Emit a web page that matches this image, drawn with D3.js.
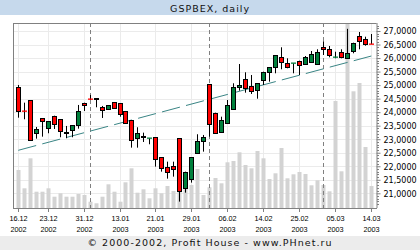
<!DOCTYPE html>
<html><head><meta charset="utf-8">
<script src="https://cdn.jsdelivr.net/npm/d3@7"></script>
<style>body{margin:0;background:#fff}svg{display:block}</style>
</head><body>
<script>
const dates = ["16.12.2002","17.12.2002","18.12.2002","19.12.2002","20.12.2002","23.12.2002","24.12.2002","25.12.2002","26.12.2002","27.12.2002","30.12.2002","31.12.2002",
"03.01.2003","06.01.2003","08.01.2003","09.01.2003","10.01.2003","13.01.2003","14.01.2003","15.01.2003","16.01.2003","17.01.2003","20.01.2003","21.01.2003","22.01.2003","23.01.2003","24.01.2003","27.01.2003","28.01.2003","29.01.2003","30.01.2003","31.01.2003",
"03.02.2003","04.02.2003","05.02.2003","06.02.2003","07.02.2003","10.02.2003","11.02.2003","12.02.2003","13.02.2003","14.02.2003","17.02.2003","18.02.2003","19.02.2003","20.02.2003","21.02.2003","25.02.2003","26.02.2003","27.02.2003","28.02.2003",
"03.03.2003","04.03.2003","05.03.2003","06.03.2003","07.03.2003","11.03.2003","12.03.2003","13.03.2003","14.03.2003"];
const open  = [24920,24050,24439,23220,23774,23405,23848,23737,23242,23331,23516,24328,24480,24500,24180,24107,24365,24328,24044,23700,23035,23094,23030,23072,22333,21964,22012,23035,21210,21542,22481,22947,25030,23981,23257,23590,24107,24920,25215,24957,24809,25190,25496,25681,26050,25829,25800,25903,25781,25866,25770,26398,26346,26022,26235,26013,26250,26815,26716,26535];
const high  = [25005,24351,24439,23453,23774,23663,23870,23737,23490,23516,24266,24351,24635,24500,24230,24255,24365,24328,24044,23700,23442,23242,23035,23072,22333,22170,22170,23035,21801,22333,23183,23157,25030,23981,23833,24450,25068,25780,25474,25374,25068,25496,25659,26102,26398,25991,25806,25903,26076,26261,26324,26619,26446,26235,26324,27080,26568,26963,26790,26889];
const low   = [23796,23737,22961,23020,23094,23220,23379,23072,23035,23072,23390,24044,24450,24180,23785,24107,24144,23833,23590,22688,22688,22898,22813,21986,21801,21542,21616,20693,21025,21395,22481,22540,23094,23220,23257,23590,24107,24794,24720,24672,24498,25005,25127,25437,25585,25622,25437,25374,25781,25866,25770,26113,26028,25990,25991,26000,26176,26324,26457,26520];
const close = [24044,24044,22961,23379,23663,23663,23553,23294,23242,23516,24044,24255,24476,24500,24070,24255,24144,23933,23590,22961,23220,23094,23035,22259,21927,21801,21890,21099,21801,22333,22947,23072,23553,23220,23711,24266,24920,24994,24905,24772,25068,25496,25659,26102,25866,25670,25806,25733,26028,26139,26213,26324,26102,26028,26028,26176,26568,26630,26509,26530];
const volume = [38,19.7,49.7,16.3,16.3,19.7,11.3,14.7,11.3,11.3,14,13,6.3,4.7,11.3,23.7,16.3,6.3,25.7,39.7,15.3,18.7,9.7,19.7,14.7,22,17,18,20,23,39,13,20.7,30,24.7,45.7,47,55.7,43,39.7,57,49.7,29,34.7,60,29.7,33.7,36,34,22.7,27.7,23,16.7,107,36.7,200,116.7,125,61,22];
const tickDates = ["16.12.2002","23.12.2002","31.12.2002","13.01.2003","21.01.2003","29.01.2003","06.02.2003","14.02.2003","25.02.2003","05.03.2003","14.03.2003"];
const yTicks = [21000,21500,22000,22500,23000,23500,24000,24500,25000,25500,26000,26500,27000];
const trendDates = ["16.12.2002","14.03.2003"];
const trendValues = [22590,26075];
const title = "GSPBEX, daily";
const footer = "\u00a9 2000-2002, Profit House - www.PHnet.ru";

const W=420,H=250, L=13, R=376.5, T=23, B=208;
const svg = d3.select("body").append("svg").attr("width",W).attr("height",H);
const x = d3.scaleBand().domain(dates).range([15.3,374.3]);
const cx = d => Math.floor(x(d)+x.bandwidth()/2);
const y = d3.scaleLinear().domain([20457,27296]).range([B,T]);
const yv = d3.scaleLinear().domain([0,185]).range([B,T]);
const px = v => Math.round(v)+0.5;

// bands
svg.append("rect").attr("x",0).attr("y",0).attr("width",W).attr("height",15).attr("fill","#c6d9ec");
svg.append("text").attr("x",209.6).attr("y",12).attr("text-anchor","middle")
  .attr("font-family","DejaVu Sans").attr("font-size",9.5).attr("textLength",79).attr("lengthAdjust","spacing")
  .attr("fill","#111").text(title);
svg.append("rect").attr("x",0).attr("y",236).attr("width",W).attr("height",14).attr("fill","#ececec");
svg.append("text").attr("x",209.5).attr("y",245.5).attr("text-anchor","middle")
  .attr("font-family","DejaVu Sans").attr("font-size",9.5).attr("textLength",244).attr("lengthAdjust","spacing")
  .attr("fill","#111").text(footer);

svg.append("clipPath").attr("id","pc").append("rect").attr("x",L).attr("y",T).attr("width",R-L).attr("height",B-T);
const g = svg.append("g").attr("clip-path","url(#pc)");

// grid
g.selectAll(".hg").data(yTicks).join("line").attr("x1",L).attr("x2",R)
  .attr("y1",d=>px(y(d))).attr("y2",d=>px(y(d))).attr("stroke","#ebebeb");
g.selectAll(".vg").data(tickDates).join("line").attr("y1",T).attr("y2",B)
  .attr("x1",d=>cx(d)+0.5).attr("x2",d=>cx(d)+0.5).attr("stroke","#ebebeb");

// volume
g.selectAll(".vol").data(dates).join("rect")
  .attr("x",d=>cx(d)-1.5).attr("width",4)
  .attr("y",(d,i)=>yv(volume[i])).attr("height",(d,i)=>B-yv(volume[i]))
  .attr("fill","#d3d3d3");

// month separators
const monthStarts = dates.filter((d,i)=> i>0 && d.slice(3,5)!==dates[i-1].slice(3,5));
g.selectAll(".ms").data(monthStarts).join("line")
  .attr("x1",d=>cx(d)+0.5).attr("x2",d=>cx(d)+0.5).attr("y1",T).attr("y2",B)
  .attr("stroke","#808080").attr("stroke-dasharray","4,3");

// trend
g.append("path").datum(trendDates)
  .attr("d",d3.line().x(d=>x(d)+x.bandwidth()/2).y((d,i)=>y(trendValues[i])))
  .attr("fill","none").attr("stroke","#3a8585").attr("stroke-width",1).attr("stroke-dasharray","18.5,6.3");

// candles
const cg = g.selectAll(".c").data(dates).join("g");
cg.append("line").attr("x1",d=>cx(d)+0.5).attr("x2",d=>cx(d)+0.5)
  .attr("y1",(d,i)=>y(high[i])).attr("y2",(d,i)=>y(low[i])).attr("stroke","#000");
cg.each(function(d,i){
  const s=d3.select(this), o=open[i], c=close[i];
  const yt=Math.round(y(Math.max(o,c))), yb=Math.round(y(Math.min(o,c)));
  const x0=cx(d)-2;
  if (o===c) {
    s.append("rect").attr("x",x0).attr("y",yt-1).attr("width",5).attr("height",2).attr("fill","#000");
  } else if (yb-yt<1) {
    s.append("rect").attr("x",x0).attr("y",yt-0.5).attr("width",5).attr("height",1.3).attr("fill",c>o?"#00803c":"#ff0000");
  } else {
    s.append("rect").attr("x",x0+0.5).attr("y",yt+0.5).attr("width",4).attr("height",yb-yt)
      .attr("fill",c>o?"#00803c":"#ff0000").attr("stroke","#000");
  }
});

// frame
const fc="#808080";
svg.append("line").attr("x1",L).attr("x2",R).attr("y1",T+0.5).attr("y2",T+0.5).attr("stroke",fc);
svg.append("line").attr("x1",L+0.5).attr("x2",L+0.5).attr("y1",T).attr("y2",B).attr("stroke",fc);

// right axis
const ra = svg.append("g").attr("transform",`translate(${R},0)`)
  .call(d3.axisRight(y).tickValues(yTicks).tickSize(4).tickPadding(3)
    .tickFormat(v=>(v/1000).toFixed(4).replace(".",",")));
ra.select(".domain").attr("d",`M0.5,${T}V${B}`).attr("stroke",fc);
ra.selectAll(".tick line").attr("stroke",fc);
ra.selectAll(".tick text").attr("font-family","DejaVu Sans").attr("font-size",8).attr("fill","#000").attr("x",7).attr("dy","0.35em");
const minor = d3.range(20500,27300,100).filter(v=>v%500!==0);
ra.selectAll(".mn").data(minor).join("line").attr("x1",0.5).attr("x2",2.5)
  .attr("y1",d=>px(y(d))).attr("y2",d=>px(y(d))).attr("stroke",fc);

// bottom axis
const ba = svg.append("g").attr("transform",`translate(0,${B})`)
  .call(d3.axisBottom(x).tickValues(tickDates).tickSize(4).tickFormat(d=>d));
ba.select(".domain").attr("d",`M${L},0.5H${R+0.5}`).attr("stroke",fc);
ba.selectAll(".tick").attr("transform",d=>`translate(${cx(d)+0.5},0)`);
ba.selectAll(".tick line").attr("stroke",fc);
ba.selectAll(".tick text").each(function(d){
  const t=d3.select(this).text("").attr("y",0).attr("dy",null)
    .attr("font-family","Liberation Sans").attr("font-size",7.3).attr("fill","#000");
  t.append("tspan").attr("x",0).attr("y",13).text(d.slice(0,5));
  t.append("tspan").attr("x",0).attr("y",24.3).text(d.slice(6));
});
</script>
</body></html>
